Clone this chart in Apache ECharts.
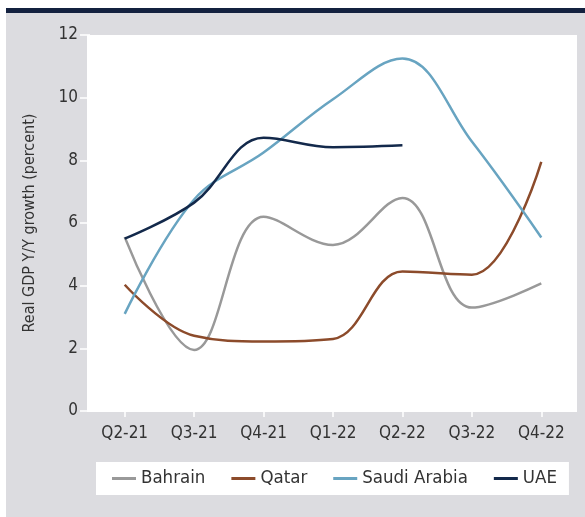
<!DOCTYPE html>
<html>
<head>
<meta charset="utf-8">
<script src="https://cdn.jsdelivr.net/npm/echarts@6/dist/echarts.min.js"></script>
<style>
html, body { margin: 0; padding: 0; background: #fff; }
#chart { width: 585px; height: 517px; }
</style>
</head>
<body>
<div id="chart"></div>
<script>
var quarters = ['Q2-21', 'Q3-21', 'Q4-21', 'Q1-22', 'Q2-22', 'Q3-22', 'Q4-22'];
var bahrain = [5.55, 1.95, 6.2, 5.3, 6.8, 3.3, 4.07];
var qatar = [4.03, 2.4, 2.22, 2.3, 4.45, 4.35, 7.95];
var saudi = [3.1, 6.75, 8.25, 9.95, 11.25, 8.6, 5.54];
var uae = [5.5, 6.65, 8.72, 8.42, 8.48, null, null];
var yTicks = [0, 2, 4, 6, 8, 10, 12];

var font = '"DejaVu Sans Condensed", sans-serif';
var chart = echarts.init(document.getElementById('chart'));

function line(name, data, color) {
	return {
		name: name,
		type: 'line',
		data: data,
		smooth: 0.38,
		showSymbol: false,
		connectNulls: false,
		lineStyle: { width: 2.5, color: color },
		itemStyle: { color: color }
	};
}

var option = {
	backgroundColor: '#fff',
	animation: false,
	textStyle: { fontFamily: font },
	graphic: [
		{ type: 'rect', z: -10, shape: { x: 6, y: 13, width: 579, height: 504 }, style: { fill: '#dcdce0' } },
		{ type: 'rect', z: -10, shape: { x: 6, y: 8, width: 579, height: 5 }, style: { fill: '#13213f' } },
		{ type: 'rect', z: -9, shape: { x: 87, y: 35, width: 490, height: 377 }, style: { fill: '#fff' } }
	],
	grid: { left: 90, right: 9, top: 35, bottom: 106 },
	legend: {
		left: 96,
		top: 462,
		backgroundColor: '#fff',
		padding: [7, 12, 7, 16],
		itemGap: 26,
		itemWidth: 24,
		itemHeight: 3,
		icon: 'rect',
		textStyle: { fontFamily: font, fontSize: 18.5, color: '#333' },
		data: ['Bahrain', 'Qatar', 'Saudi Arabia', 'UAE']
	},
	xAxis: {
		type: 'category',
		data: quarters,
		boundaryGap: true,
		axisLine: { show: false },
		axisTick: { show: true, alignWithLabel: true, length: 6, lineStyle: { color: '#fff', width: 1.5 } },
		axisLabel: { fontFamily: font, fontSize: 17, color: '#333', margin: 14 }
	},
	yAxis: {
		type: 'value',
		min: yTicks[0],
		max: yTicks[yTicks.length - 1],
		interval: 2,
		name: 'Real GDP Y/Y growth (percent)',
		nameLocation: 'middle',
		nameGap: 52,
		nameTextStyle: { fontFamily: font, fontSize: 16, color: '#333' },
		splitLine: { show: false },
		axisLine: { show: false },
		axisTick: { show: true, length: 10, lineStyle: { color: '#fff', width: 1.5 } },
		axisLabel: { fontFamily: font, fontSize: 17, color: '#333', margin: 12 }
	},
	series: [
		line('Bahrain', bahrain, '#999999'),
		line('Qatar', qatar, '#8c4b2b'),
		line('Saudi Arabia', saudi, '#68a4c1'),
		line('UAE', uae, '#13294b')
	]
};

chart.setOption(option);
</script>
</body>
</html>
